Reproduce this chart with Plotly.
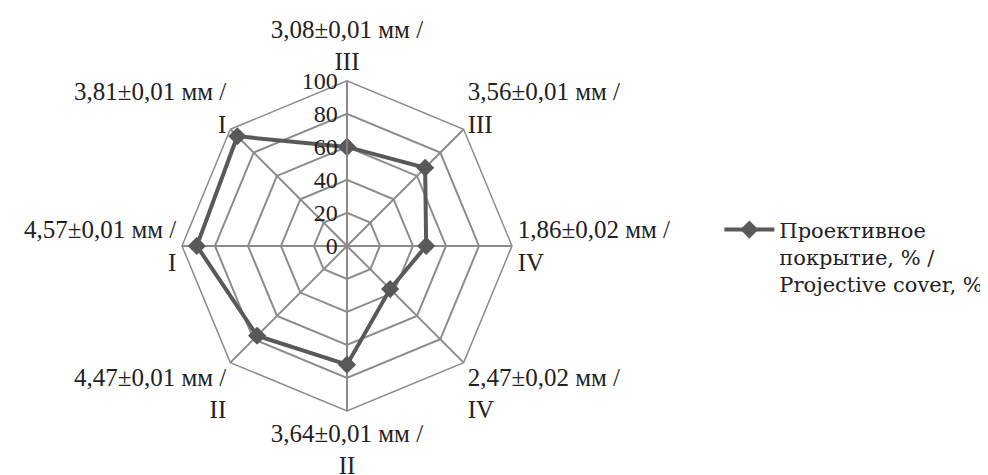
import plotly.graph_objects as go

# categories (clockwise from top) and values, %
categories = ["3,08±0,01 мм /<br>III", "3,56±0,01 мм /<br>III", "1,86±0,02 мм /<br>IV",
              "2,47±0,02 мм /<br>IV", "3,64±0,01 мм /<br>II", "4,47±0,01 мм /<br>II",
              "4,57±0,01 мм /<br>I", "3,81±0,01 мм /<br>I"]
cover = [60, 67, 48, 37, 72, 77, 91, 94]
series_name = "Проективное<br>покрытие, % /<br>Projective cover, %"

grid = "#8c8c8c"
fig = go.Figure()
fig.add_trace(go.Scatterpolar(
    r=cover + cover[:1], theta=categories + categories[:1],
    mode="lines+markers", name=series_name,
    line=dict(color="#595959", width=4),
    marker=dict(symbol="diamond", size=14, color="#595959"),
))

fig.update_layout(
    width=988, height=475,
    margin=dict(l=0, r=0, t=0, b=0),
    paper_bgcolor="white", plot_bgcolor="white",
    font=dict(family="Liberation Serif", size=25, color="#222"),
    polar=dict(
        domain=dict(x=[0.1761, 0.5101], y=[0.1516, 0.8466]),
        bgcolor="white",
        gridshape="linear",
        angularaxis=dict(direction="clockwise", rotation=90, gridcolor=grid, gridwidth=1.5,
                         linecolor=grid, linewidth=1.5, ticks="", showline=True),
        radialaxis=dict(range=[0, 100], tickvals=[0, 20, 40, 60, 80, 100], angle=90,
                        tickangle=90, ticksuffix="\u00a0\u00a0\u00a0\u00a0",
                        side="counterclockwise", gridcolor=grid, gridwidth=1.5,
                        linecolor=grid, linewidth=1.5, ticks="", showline=True,
                        tickfont=dict(size=24)),
    ),
    showlegend=True,
    legend=dict(x=0.72, y=0.576, xanchor="left", yanchor="top", valign="top",
                font=dict(family="DejaVu Serif", size=21), itemwidth=50),
)

fig.write_html("out.html")
